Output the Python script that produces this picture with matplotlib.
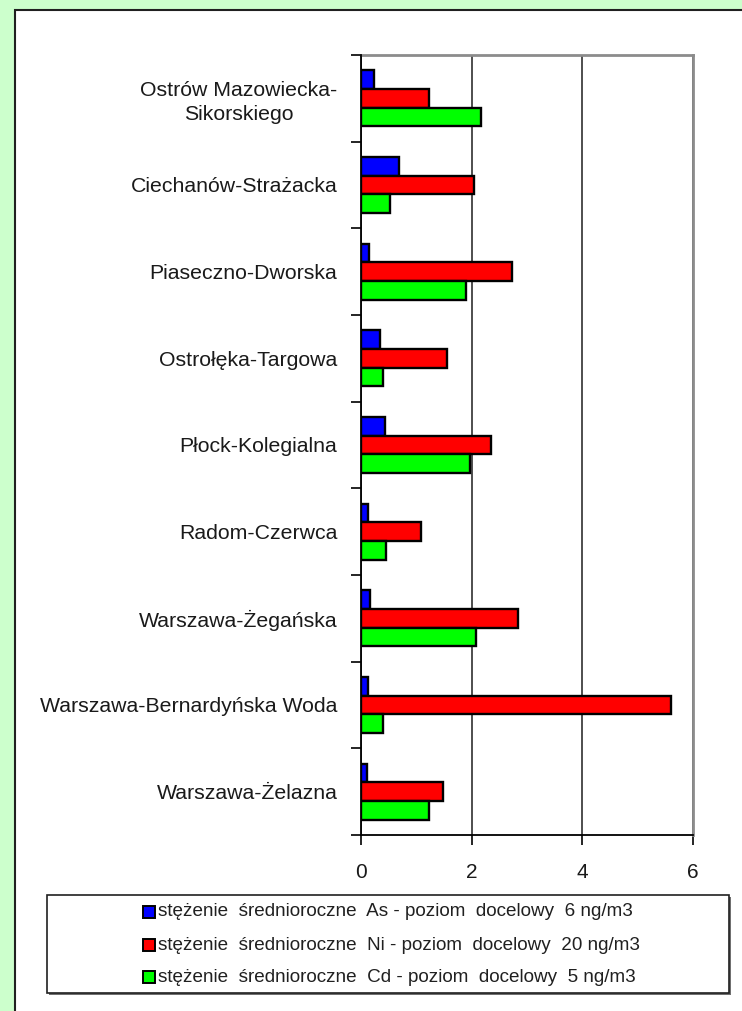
import matplotlib
matplotlib.use("Agg")
import matplotlib.pyplot as plt
from matplotlib.patches import Rectangle
import numpy as np

plt.rcParams['font.family'] = ['Liberation Sans', 'DejaVu Sans']

# Monitoring stations (top to bottom)
stations = [
    "Ostrów Mazowiecka-\nSikorskiego",
    "Ciechanów-Strażacka",
    "Piaseczno-Dworska",
    "Ostrołęka-Targowa",
    "Płock-Kolegialna",
    "Radom-Czerwca",
    "Warszawa-Żegańska",
    "Warszawa-Bernardyńska Woda",
    "Warszawa-Żelazna",
]

# Annual mean concentrations, ng/m3
arsenic = [0.24, 0.69, 0.15, 0.34, 0.43, 0.13, 0.17, 0.13, 0.10]
nickel = [1.23, 2.04, 2.72, 1.56, 2.35, 1.08, 2.83, 5.61, 1.49]
cadmium = [2.16, 0.52, 1.89, 0.40, 1.97, 0.45, 2.07, 0.40, 1.23]

series_labels = [
    "stężenie  średnioroczne  As - poziom  docelowy  6 ng/m3",
    "stężenie  średnioroczne  Ni - poziom  docelowy  20 ng/m3",
    "stężenie  średnioroczne  Cd - poziom  docelowy  5 ng/m3",
]
series_colors = ["#0000FF", "#FF0000", "#00FF00"]

x_ticks = [0, 2, 4, 6]

W, H = 742, 1011
fig = plt.figure(figsize=(W / 100, H / 100), dpi=100)
fig.patch.set_facecolor("#CCFFCC")

# white chart panel
panel = Rectangle((15 / W, -0.1), 1.2, 1 - 10 / H + 0.1, transform=fig.transFigure,
                  facecolor="white", edgecolor="#202020", linewidth=1.5, zorder=-10)
fig.patches.append(panel)

ax = fig.add_axes([361 / W, 1 - 835 / H, (693 - 361) / W, (835 - 55) / H])
ax.set_facecolor("white")

n = len(stations)
pos = np.arange(n)
bh = 0.215
for vals, off, col in zip([arsenic, nickel, cadmium], [-bh, 0, bh], series_colors):
    ax.barh(pos + off, vals, height=bh, color=col, edgecolor="black",
            linewidth=1.7, zorder=3)

ax.set_xlim(0, 6)
ax.set_ylim(n - 0.5, -0.5)

ax.set_xticks(x_ticks)
ax.set_xticklabels([str(t) for t in x_ticks], fontsize=15, color="#1a1a1a")
ax.tick_params(axis="x", direction="out", length=7, width=1.2, pad=13)
ax.xaxis.grid(True, color="#404040", linewidth=1.3, zorder=1)

ax.set_yticks(pos)
ax.set_yticklabels(stations, fontsize=15.3, linespacing=1.3, color="#1a1a1a")
for lbl in ax.get_yticklabels():
    lbl.set_multialignment("center")
ax.tick_params(axis="y", which="major", length=0, pad=17)
ax.set_yticks(np.arange(n + 1) - 0.5, minor=True)
ax.tick_params(axis="y", which="minor", direction="out", length=7, width=1.2)

for side in ["top", "right"]:
    ax.spines[side].set_color("#8C8C8C")
    ax.spines[side].set_linewidth(2.0)
for side in ["left", "bottom"]:
    ax.spines[side].set_color("black")
    ax.spines[side].set_linewidth(1.3)
    ax.spines[side].set_zorder(4)

# legend box
lx0, lx1, ly0, ly1 = 47, 729, 895, 993
shadow = Rectangle(((lx0 + 2) / W, 1 - (ly1 + 2) / H), (lx1 - lx0) / W, (ly1 - ly0) / H,
                   transform=fig.transFigure, facecolor="#707070", edgecolor="none", zorder=1)
box = Rectangle((lx0 / W, 1 - ly1 / H), (lx1 - lx0) / W, (ly1 - ly0) / H,
                transform=fig.transFigure, facecolor="white", edgecolor="#202020",
                linewidth=1.2, zorder=2)
fig.patches.extend([shadow, box])
rows = [912, 945, 977]
for yc, lab, col in zip(rows, series_labels, series_colors):
    mk = Rectangle((143 / W, 1 - (yc + 6) / H), 12 / W, 12 / H, transform=fig.transFigure,
                   facecolor=col, edgecolor="black", linewidth=1.4, zorder=3)
    fig.patches.append(mk)
    fig.text(158 / W, 1 - yc / H, lab, fontsize=13.6, va="center", ha="left",
             color="#202020", zorder=4)

fig.savefig("out.png", dpi=100)
